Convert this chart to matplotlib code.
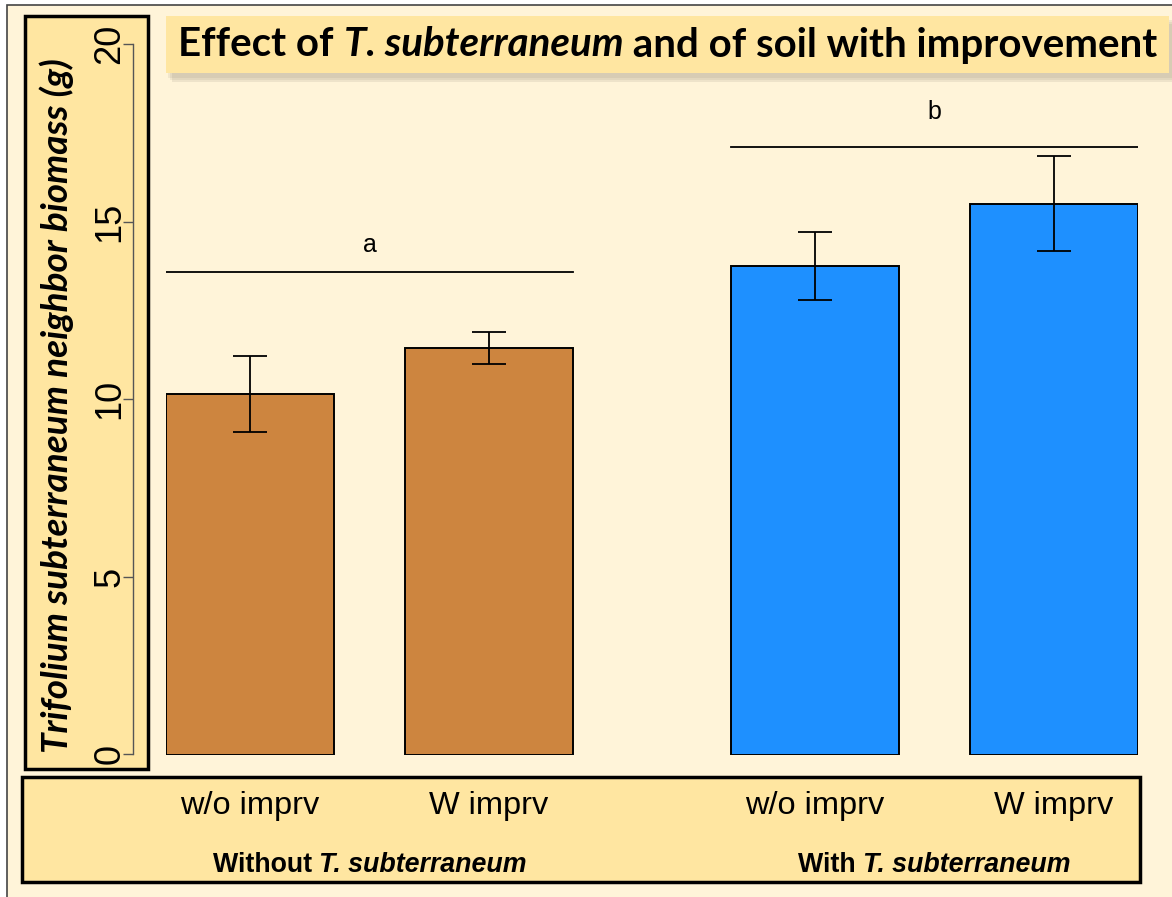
import matplotlib
matplotlib.use("Agg")
import matplotlib.pyplot as plt
from matplotlib.patches import Rectangle
import numpy as np

# datos
groups = ["Without", "With"]
species = "T. subterraneum"
treatments = ["w/o imprv", "W imprv"]
means = [10.02, 11.30, 13.58, 15.31]
se = [1.06, 0.44, 0.94, 1.32]
letters = ["a", "b"]
letter_heights = [13.41, 16.88]
yticks = [0, 5, 10, 15, 20]

W, H = 1172, 897
cream = "#FFF4D9"
gold = "#FFE6A1"
bar_colors = ["#CD853F", "#CD853F", "#1E90FF", "#1E90FF"]
sans = "Liberation Sans"
calibri = "Lato"


def fx(x):
    return x / W


def fy(y):
    return 1 - y / H


def box(x0, y0, x1, y1, **kw):
    r = Rectangle((fx(x0), fy(y1)), fx(x1 - x0), (y1 - y0) / H,
                  transform=fig.transFigure, **kw)
    fig.patches.append(r)
    return r


def rich_text(xc, y, parts, **kw):
    # coloca trozos de texto con estilos distintos uno tras otro, centrados en xc
    renderer = fig.canvas.get_renderer()
    objs = [fig.text(0, fy(y), s, va="center", ha="left", **kw, **st) for s, st in parts]
    widths = [t.get_window_extent(renderer).width for t in objs]
    x = xc - sum(widths) / 2
    for t, w in zip(objs, widths):
        t.set_x(fx(x))
        x += w


fig = plt.figure(figsize=(W / 100, H / 100), dpi=100, facecolor="white")

# fondo general con borde
box(7, 5, W + 20, H + 20, facecolor=cream, edgecolor="#444444", linewidth=1.2, zorder=-10)

# caja del titulo con sombra
for k, a in enumerate([0.10, 0.10, 0.12]):
    box(168 + 2 * k, 20 + 2 * k, 1172 + 2 * k, 78 + 2 * k, facecolor="#7a7060",
        edgecolor="none", alpha=a, zorder=-9)
box(166, 16, 1169, 73, facecolor=gold, edgecolor="none", zorder=-8)
rich_text(668, 45, [("Effect of ", {"fontweight": "bold"}),
                    ("T. subterraneum", {"fontweight": "bold", "fontstyle": "italic"}),
                    (" and of soil with improvement", {"fontweight": "bold"})],
          family=calibri, fontsize=29)

# caja del eje y
box(25, 16, 148, 769, facecolor=gold, edgecolor="black", linewidth=2.5, zorder=-8)
fig.text(fx(57), fy(406), "Trifolium subterraneum neighbor biomass (g)", rotation=90,
         ha="center", va="center", family=calibri, fontweight="bold", fontstyle="italic",
         fontsize=26.6)

ay = fig.add_axes([fx(133), fy(754), 0.0005, (754 - 44) / H])
ay.set_ylim(0, 20)
ay.set_facecolor("none")
for s in ["top", "right", "bottom"]:
    ay.spines[s].set_visible(False)
ay.spines["left"].set_color("#555555")
ay.spines["left"].set_linewidth(1.0)
ay.set_xticks([])
ay.set_yticks(yticks)
ay.set_yticklabels([str(v) for v in yticks], rotation=90, va="center",
                   family=sans, fontsize=26)
ay.tick_params(axis="y", length=7.2, width=1.0, color="#555555", pad=-3)

# caja inferior
box(22, 777, 1140, 882, facecolor=gold, edgecolor="black", linewidth=2.5, zorder=-8)

# barras
within_step = 1.42
group_step = 3.356
x = np.array([g * group_step + t * within_step
              for g in range(len(groups)) for t in range(len(treatments))])

ax = fig.add_axes([fx(166), fy(755), fx(1138 - 166), 720 / H])
ax.set_xlim(x[0] - 0.5, x[-1] + 0.5)
ax.set_ylim(0, 20)
ax.axis("off")
ax.bar(x, means, width=1.0, color=bar_colors, edgecolor="black", linewidth=1.4)
ax.errorbar(x, means, yerr=se, fmt="none", ecolor="black", elinewidth=1.3,
            capsize=12, capthick=1.3)

letter_pad = [0.55, 0.8]
nt = len(treatments)
for g, (lab, h) in enumerate(zip(letters, letter_heights)):
    xs = x[g * nt:(g + 1) * nt]
    ax.plot([xs[0] - 0.5, xs[-1] + 0.5], [h, h], color="black", linewidth=1.3)
    ax.text(xs.mean(), h + letter_pad[g], lab, ha="center", va="baseline",
            family=sans, fontsize=18)

# etiquetas del eje x (posicion de las barras a pixeles)
to_px = lambda v: ax.transData.transform((v, 0))[0]
for i, xv in enumerate(x):
    fig.text(fx(to_px(xv)), fy(806), treatments[i % nt], ha="center", va="center",
             family=sans, fontsize=23.4)
for g, name in enumerate(groups):
    xc = to_px(x[g * nt:(g + 1) * nt].mean())
    rich_text(xc, 865, [(name + " ", {"fontweight": "bold"}),
                        (species, {"fontweight": "bold", "fontstyle": "italic"})],
              family=sans, fontsize=19.3)

fig.savefig("out.png", dpi=100, facecolor=fig.get_facecolor())
